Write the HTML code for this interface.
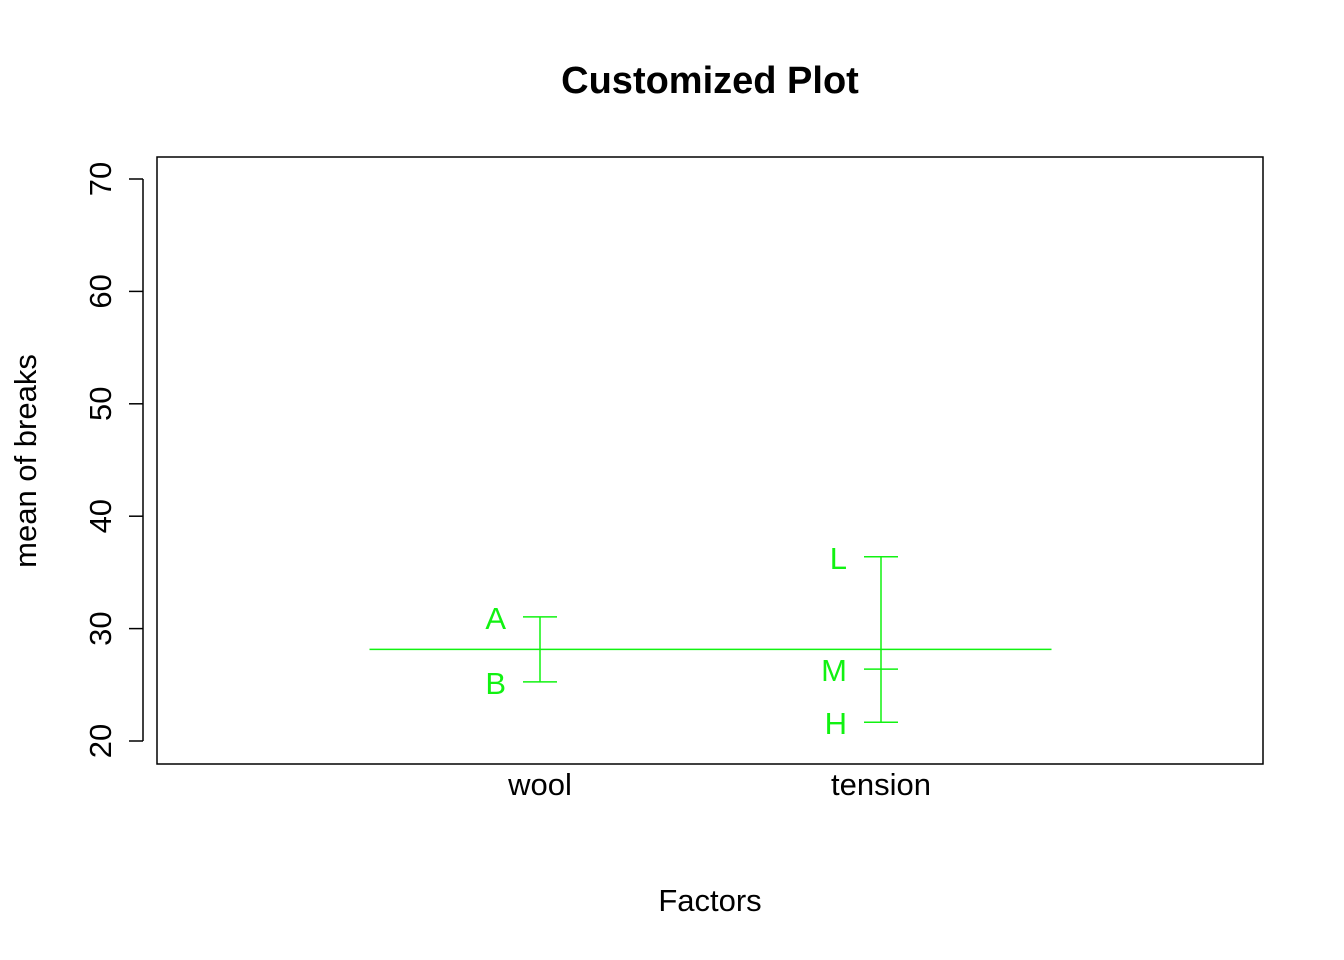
<!DOCTYPE html>
<html><head><meta charset="utf-8"><style>
body{margin:0;background:#fff}
svg{display:block;font-family:"Liberation Sans",Arial,sans-serif}
</style></head><body>
<svg id="chart" width="1344" height="960" viewBox="0 0 1344 960">
<text x="710" y="93" text-anchor="middle" font-size="38" font-weight="bold">Customized Plot</text>
<rect x="157" y="157" width="1106" height="607" fill="none" stroke="#000" stroke-width="1.5"/>
<text x="710" y="911" text-anchor="middle" font-size="31">Factors</text>
<text transform="translate(36,461) rotate(-90)" text-anchor="middle" font-size="31">mean of breaks</text>
<g id="yaxis"></g>
<g id="marks"></g>
</svg>
<script>
const factors = ["wool", "tension"];
const levelNames = [["A","B"], ["L","M","H"]];
const levelMeans = [[31.04, 25.26], [36.39, 26.39, 21.67]];
const grandMean = 28.15;
const yTicks = [20, 30, 40, 50, 60, 70];

const NS = "http://www.w3.org/2000/svg";
const y = v => 741 - (v - 20) * 11.24;
const x = i => 199 + i * 341;
const GREEN = "#11f211";
function mk(tag, attrs, parent, text){
  const el = document.createElementNS(NS, tag);
  for (const k in attrs) el.setAttribute(k, attrs[k]);
  if (text !== undefined) el.textContent = text;
  parent.appendChild(el);
  return el;
}
const ya = document.getElementById("yaxis");
const ax = mk("line", {x1:143, x2:143, y1:y(yTicks[0]), y2:y(yTicks[yTicks.length-1]), stroke:"#000", "stroke-width":1.5}, ya);


yTicks.forEach(t => {
  const tk = mk("line", {x1:129, x2:143, y1:y(t), y2:y(t), stroke:"#000", "stroke-width":1.5}, ya);
  
  
  const lb = mk("text", {transform:`translate(111,${y(t)}) rotate(-90)`, "text-anchor":"middle", "font-size":31}, ya, String(t));
  
  
});
const g = document.getElementById("marks");
const gl = mk("line", {x1:x(0.5), x2:x(factors.length + 0.5), y1:y(grandMean), y2:y(grandMean), stroke:GREEN, "stroke-width":1.5}, g);


factors.forEach((f, i) => {
  const cx = x(i + 1);
  const vals = levelMeans[i];
  const vl = mk("line", {x1:cx, x2:cx, y1:y(Math.max(...vals)), y2:y(Math.min(...vals)), stroke:GREEN, "stroke-width":1.5}, g);
  
  
  vals.forEach((v, j) => {
    const c = mk("line", {x1:cx - 17, x2:cx + 17, y1:y(v), y2:y(v), stroke:GREEN, "stroke-width":1.5}, g);
    
    
    const t = mk("text", {x:cx - 34, y:y(v) + 12, "text-anchor":"end", "font-size":31, fill:GREEN}, g, levelNames[i][j]);
    
    
  });
  const xl = mk("text", {x:cx, y:795, "text-anchor":"middle", "font-size":31}, g, f);
  
  
});
</script>
</body></html>
